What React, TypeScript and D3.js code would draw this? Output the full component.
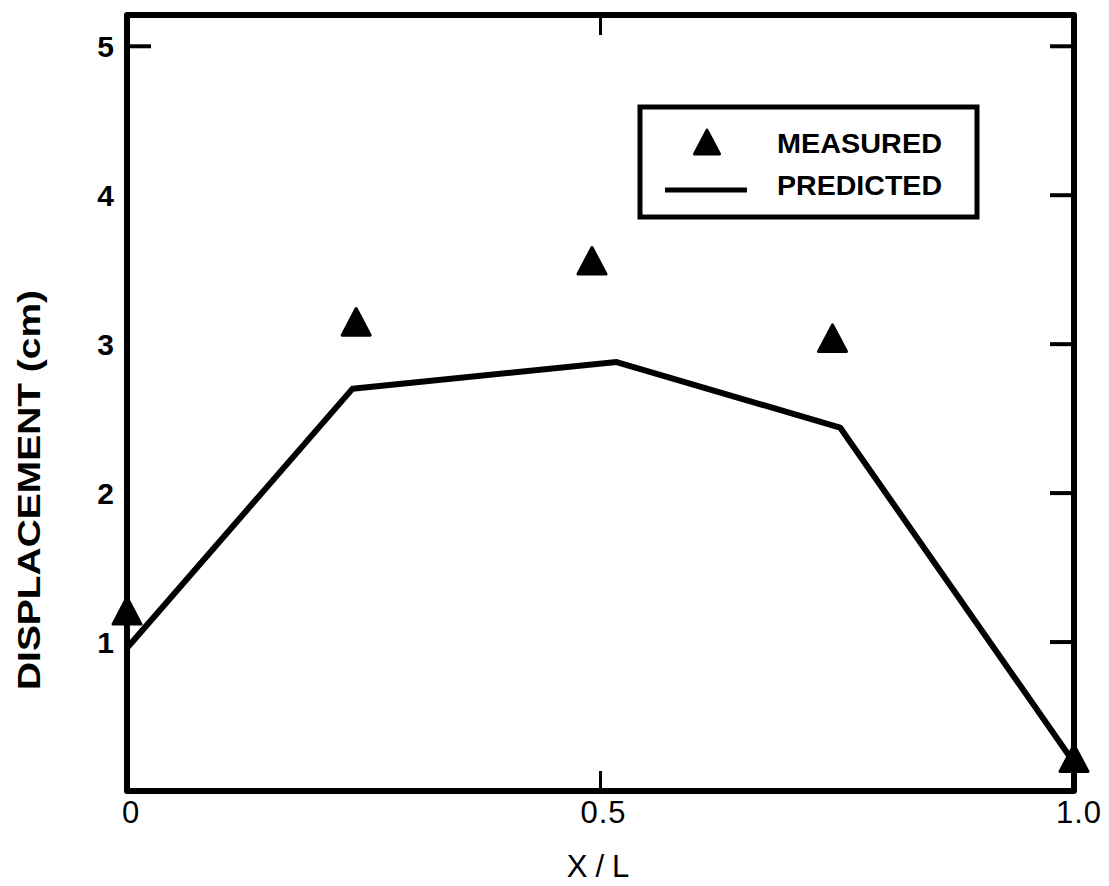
import React from "react";
import * as d3 from "d3";

const measuredX = [0.0, 0.242, 0.491, 0.745, 1.0];
const measuredY = [1.21, 3.15, 3.56, 3.04, 0.22];
const predictedX = [0.0, 0.238, 0.517, 0.753, 1.0];
const predictedY = [0.96, 2.7, 2.88, 2.44, 0.19];
const yTickValues = [1, 2, 3, 4, 5];
const xTickLabels = ["0", "0.5", "1.0"];
const xTickValues = [0, 0.5, 1.0];

const W = 1109;
const H = 886;
const left = 127;
const right = 1074;
const top = 15;
const bottom = 791;

export default function App() {
  const x = d3.scaleLinear().domain([0, 1]).range([left, right]);
  const y = d3.scaleLinear().domain([0, 5.21]).range([bottom, top]);
  const line = d3
    .line<number>()
    .x((_, i) => x(predictedX[i]))
    .y((d) => y(d));
  const tri = (cx: number, cy: number, s: number) => {
    const h = s * 0.95;
    return `M${cx},${cy - h / 2} L${cx + s / 2},${cy + h / 2} L${cx - s / 2},${cy + h / 2} Z`;
  };
  const font = "'Liberation Sans', Arial, sans-serif";
  return (
    <svg
      width={W}
      height={H}
      style={{ position: "absolute", left: 0, top: 0, background: "#fff" }}
      fontFamily={font}
    >
      <rect x={0} y={0} width={W} height={H} fill="#fff" />
      {/* frame */}
      <rect
        x={left}
        y={top}
        width={right - left}
        height={bottom - top}
        fill="none"
        stroke="#000"
        strokeWidth={6}
        strokeLinejoin="round"
      />
      {/* right ticks */}
      {yTickValues.map((v) => (
        <line
          key={"r" + v}
          x1={right}
          x2={right - 24}
          y1={y(v)}
          y2={y(v)}
          stroke="#000"
          strokeWidth={4}
        />
      ))}
      {/* left tick at 5 */}
      <line x1={left} x2={left + 24} y1={y(5)} y2={y(5)} stroke="#000" strokeWidth={4} />
      {/* top and bottom ticks at 0.5 */}
      <line x1={x(0.5)} x2={x(0.5)} y1={bottom} y2={bottom - 20} stroke="#000" strokeWidth={3} />
      <line x1={x(0.5)} x2={x(0.5)} y1={top} y2={top + 20} stroke="#000" strokeWidth={3} />
      {/* y tick labels */}
      {yTickValues.map((v) => (
        <text
          key={"yl" + v}
          x={114}
          y={y(v)}
          dy="0.36em"
          textAnchor="end"
          fontSize={30}
          fontWeight="bold"
        >
          {v}
        </text>
      ))}
      {/* x tick labels */}
      {xTickValues.map((v, i) => (
        <text
          key={"xl" + v}
          x={x(v) + (i === 0 ? 4 : i === 1 ? 3 : 5)}
          y={823}
          textAnchor="middle"
          fontSize={31}
          letterSpacing={1}
        >
          {xTickLabels[i]}
        </text>
      ))}
      {/* axis titles */}
      <text x={602} y={877} textAnchor="middle" fontSize={31} letterSpacing={8}>
        X/L
      </text>
      <text
        transform="translate(40,490) rotate(-90)"
        textAnchor="middle"
        fontSize={31}
        fontWeight="bold"
        textLength={400}
        lengthAdjust="spacingAndGlyphs"
      >
        DISPLACEMENT (cm)
      </text>
      {/* predicted line */}
      <path
        d={line(predictedY) || ""}
        fill="none"
        stroke="#000"
        strokeWidth={6}
        strokeLinejoin="round"
      />
      {/* measured triangles */}
      {measuredY.map((v, i) => (
        <path
          key={"m" + i}
          d={tri(x(measuredX[i]), y(v), 28)}
          fill="#000"
          stroke="#000"
          strokeWidth={3}
          strokeLinejoin="round"
        />
      ))}
      {/* legend */}
      <rect x={640} y={107} width={337} height={110} fill="#fff" stroke="#000" strokeWidth={5} />
      <path d={tri(707, 142, 25)} fill="#000" stroke="#000" strokeWidth={3} strokeLinejoin="round" />
      <text x={777} y={153} fontSize={28} fontWeight="bold" textLength={165} lengthAdjust="spacingAndGlyphs">
        MEASURED
      </text>
      <line x1={665} x2={747} y1={190} y2={190} stroke="#000" strokeWidth={5} />
      <text x={777} y={195} fontSize={28} fontWeight="bold" textLength={165} lengthAdjust="spacingAndGlyphs">
        PREDICTED
      </text>
    </svg>
  );
}
